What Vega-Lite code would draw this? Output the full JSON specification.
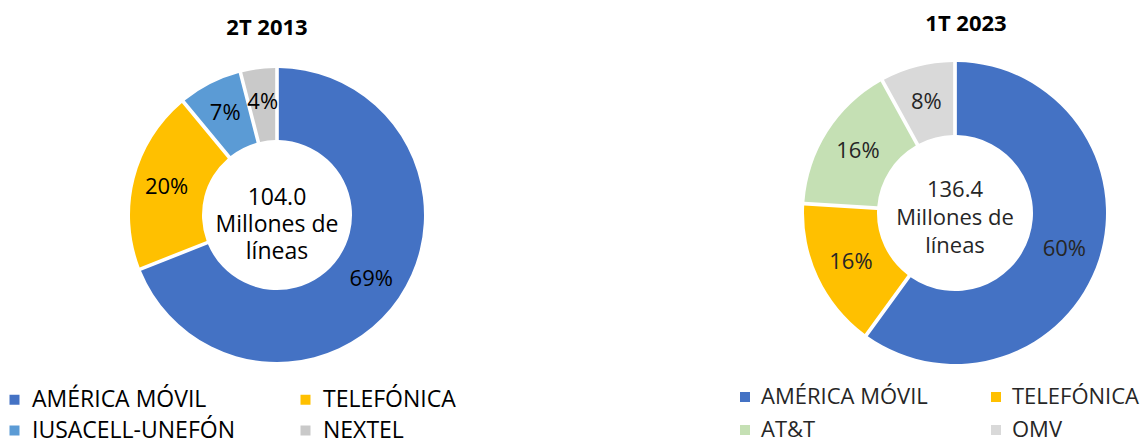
{
  "$schema": "https://vega.github.io/schema/vega-lite/v6.json",
  "padding": 0,
  "spacing": 213,
  "bounds": "flush",
  "config": {
    "view": {"stroke": null},
    "font": "Open Sans",
    "title": {"font": "Open Sans", "fontSize": 22, "fontWeight": "bold", "color": "#000000", "anchor": "middle"}
  },
  "resolve": {"scale": {"color": "independent"}, "legend": {"color": "independent"}},
  "hconcat": [
    {
      "width": 554,
      "height": 430,
      "title": {"text": "2T 2013", "offset": -40, "dx": -10},
      "data": {"values": [
        {"empresa": "AMÉRICA MÓVIL", "pct": 0.69, "orden": 1},
        {"empresa": "TELEFÓNICA", "pct": 0.20, "orden": 2},
        {"empresa": "IUSACELL-UNEFÓN", "pct": 0.07, "orden": 3},
        {"empresa": "NEXTEL", "pct": 0.04, "orden": 4}
      ]},
      "layer": [
        {
          "mark": {"type": "arc", "innerRadius": 75, "outerRadius": 147, "padAngle": 0.022},
          "encoding": {
            "theta": {"field": "pct", "type": "quantitative", "stack": true},
            "order": {"field": "orden", "type": "quantitative", "sort": "ascending"},
            "color": {
              "field": "empresa", "type": "nominal",
              "scale": {"domain": ["AMÉRICA MÓVIL", "TELEFÓNICA", "IUSACELL-UNEFÓN", "NEXTEL"], "range": ["#4472C4", "#FFC000", "#5B9BD5", "#C9C9C9"]},
              "legend": {"orient": "none", "direction": "horizontal", "legendX": 3, "legendY": 388, "columns": 2, "title": null, "symbolType": "square", "symbolSize": 100, "symbolStrokeWidth": 0, "labelFont": "Open Sans", "labelFontSize": 23, "labelColor": "#000000", "labelOffset": 6, "columnPadding": 59, "rowPadding": 7, "padding": 0, "labelLimit": 0}
            }
          }
        },
        {
          "mark": {"type": "text", "radius": 114, "font": "Open Sans", "fontSize": 22, "color": "#000000"},
          "encoding": {
            "theta": {"field": "pct", "type": "quantitative", "stack": true},
            "order": {"field": "orden", "type": "quantitative", "sort": "ascending"},
            "detail": {"field": "empresa", "type": "nominal"},
            "text": {"field": "pct", "type": "quantitative", "format": ".0%"}
          }
        },
        {
          "data": {"values": [{"texto": "104.0\nMillones de\nlíneas"}]},
          "mark": {"type": "text", "font": "Open Sans", "fontSize": 23, "lineBreak": "\n", "lineHeight": 27, "dy": -17, "color": "#000000"},
          "encoding": {"text": {"field": "texto", "type": "nominal"}}
        }
      ]
    },
    {
      "width": 376,
      "height": 426,
      "title": {"text": "1T 2023", "offset": -40, "dx": 11, "dy": -4},
      "data": {"values": [
        {"empresa": "AMÉRICA MÓVIL", "pct": 0.60, "orden": 1},
        {"empresa": "TELEFÓNICA", "pct": 0.16, "orden": 2},
        {"empresa": "AT&T", "pct": 0.16, "orden": 3},
        {"empresa": "OMV", "pct": 0.08, "orden": 4}
      ]},
      "layer": [
        {
          "mark": {"type": "arc", "innerRadius": 78, "outerRadius": 151, "padAngle": 0.022},
          "encoding": {
            "theta": {"field": "pct", "type": "quantitative", "stack": true},
            "order": {"field": "orden", "type": "quantitative", "sort": "ascending"},
            "color": {
              "field": "empresa", "type": "nominal",
              "scale": {"domain": ["AMÉRICA MÓVIL", "TELEFÓNICA", "AT&T", "OMV"], "range": ["#4472C4", "#FFC000", "#C5E0B4", "#D9D9D9"]},
              "legend": {"orient": "none", "direction": "horizontal", "legendX": -33, "legendY": 386, "columns": 2, "title": null, "symbolType": "square", "symbolSize": 100, "symbolStrokeWidth": 0, "labelFont": "Open Sans", "labelFontSize": 22, "labelColor": "#262626", "labelOffset": 5, "columnPadding": 57, "rowPadding": 11, "padding": 0, "labelLimit": 0}
            }
          }
        },
        {
          "mark": {"type": "text", "radius": 115, "font": "Open Sans", "fontSize": 22, "color": "#262626"},
          "encoding": {
            "theta": {"field": "pct", "type": "quantitative", "stack": true},
            "order": {"field": "orden", "type": "quantitative", "sort": "ascending"},
            "detail": {"field": "empresa", "type": "nominal"},
            "text": {"field": "pct", "type": "quantitative", "format": ".0%"}
          }
        },
        {
          "data": {"values": [{"texto": "136.4\nMillones de\nlíneas"}]},
          "mark": {"type": "text", "font": "Open Sans", "fontSize": 22, "lineBreak": "\n", "lineHeight": 28, "dy": -23, "color": "#262626"},
          "encoding": {"text": {"field": "texto", "type": "nominal"}}
        }
      ]
    }
  ]
}
